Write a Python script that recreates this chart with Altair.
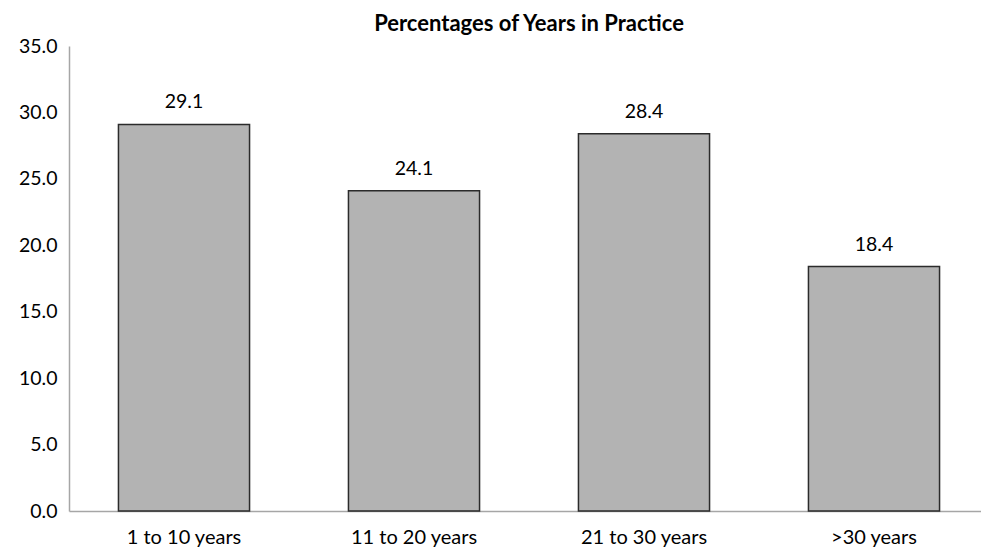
import altair as alt
import pandas as pd

categories = ["1 to 10 years", "11 to 20 years", "21 to 30 years", ">30 years"]
values = [29.1, 24.1, 28.4, 18.4]

df = pd.DataFrame({"cat": categories, "val": values})

font = "Lato"

x = alt.X("cat:N", sort=categories, title=None,
          scale=alt.Scale(paddingInner=0.43, paddingOuter=0.215),
          axis=alt.Axis(labelAngle=0, labelFontSize=20, labelFont=font, labelColor="#000",
                        ticks=False, domainColor="#a6a6a6", domainWidth=1.5, labelPadding=16))
y = alt.Y("val:Q", title=None,
          scale=alt.Scale(domain=[0, 35]),
          axis=alt.Axis(values=[0, 5, 10, 15, 20, 25, 30, 35], format=".1f", grid=False,
                        ticks=False, labelFontSize=19.5, labelFont=font, labelColor="#000",
                        domainColor="#a6a6a6", domainWidth=1.5, labelPadding=12))

bars = alt.Chart(df).mark_bar(color="#b3b3b3", stroke="#2b2b2b", strokeWidth=1.5).encode(x=x, y=y)
text = alt.Chart(df).mark_text(baseline="bottom", dy=-12, fontSize=19.5, font=font, color="#000").encode(
    x=alt.X("cat:N", sort=categories), y="val:Q", text=alt.Text("val:Q", format=".1f"))

chart = (bars + text).properties(
    width=920, height=465,
    title=alt.TitleParams("Percentages of Years in Practice", fontSize=22, font=font,
                          fontWeight="bold", color="#000", offset=0),
    autosize=alt.AutoSizeParams(type="none"),
    padding={"left": 61, "top": 38, "right": -8, "bottom": 38},
).configure_view(stroke=None)

chart.save("out.html", embed_options={"renderer": "svg", "actions": False})
